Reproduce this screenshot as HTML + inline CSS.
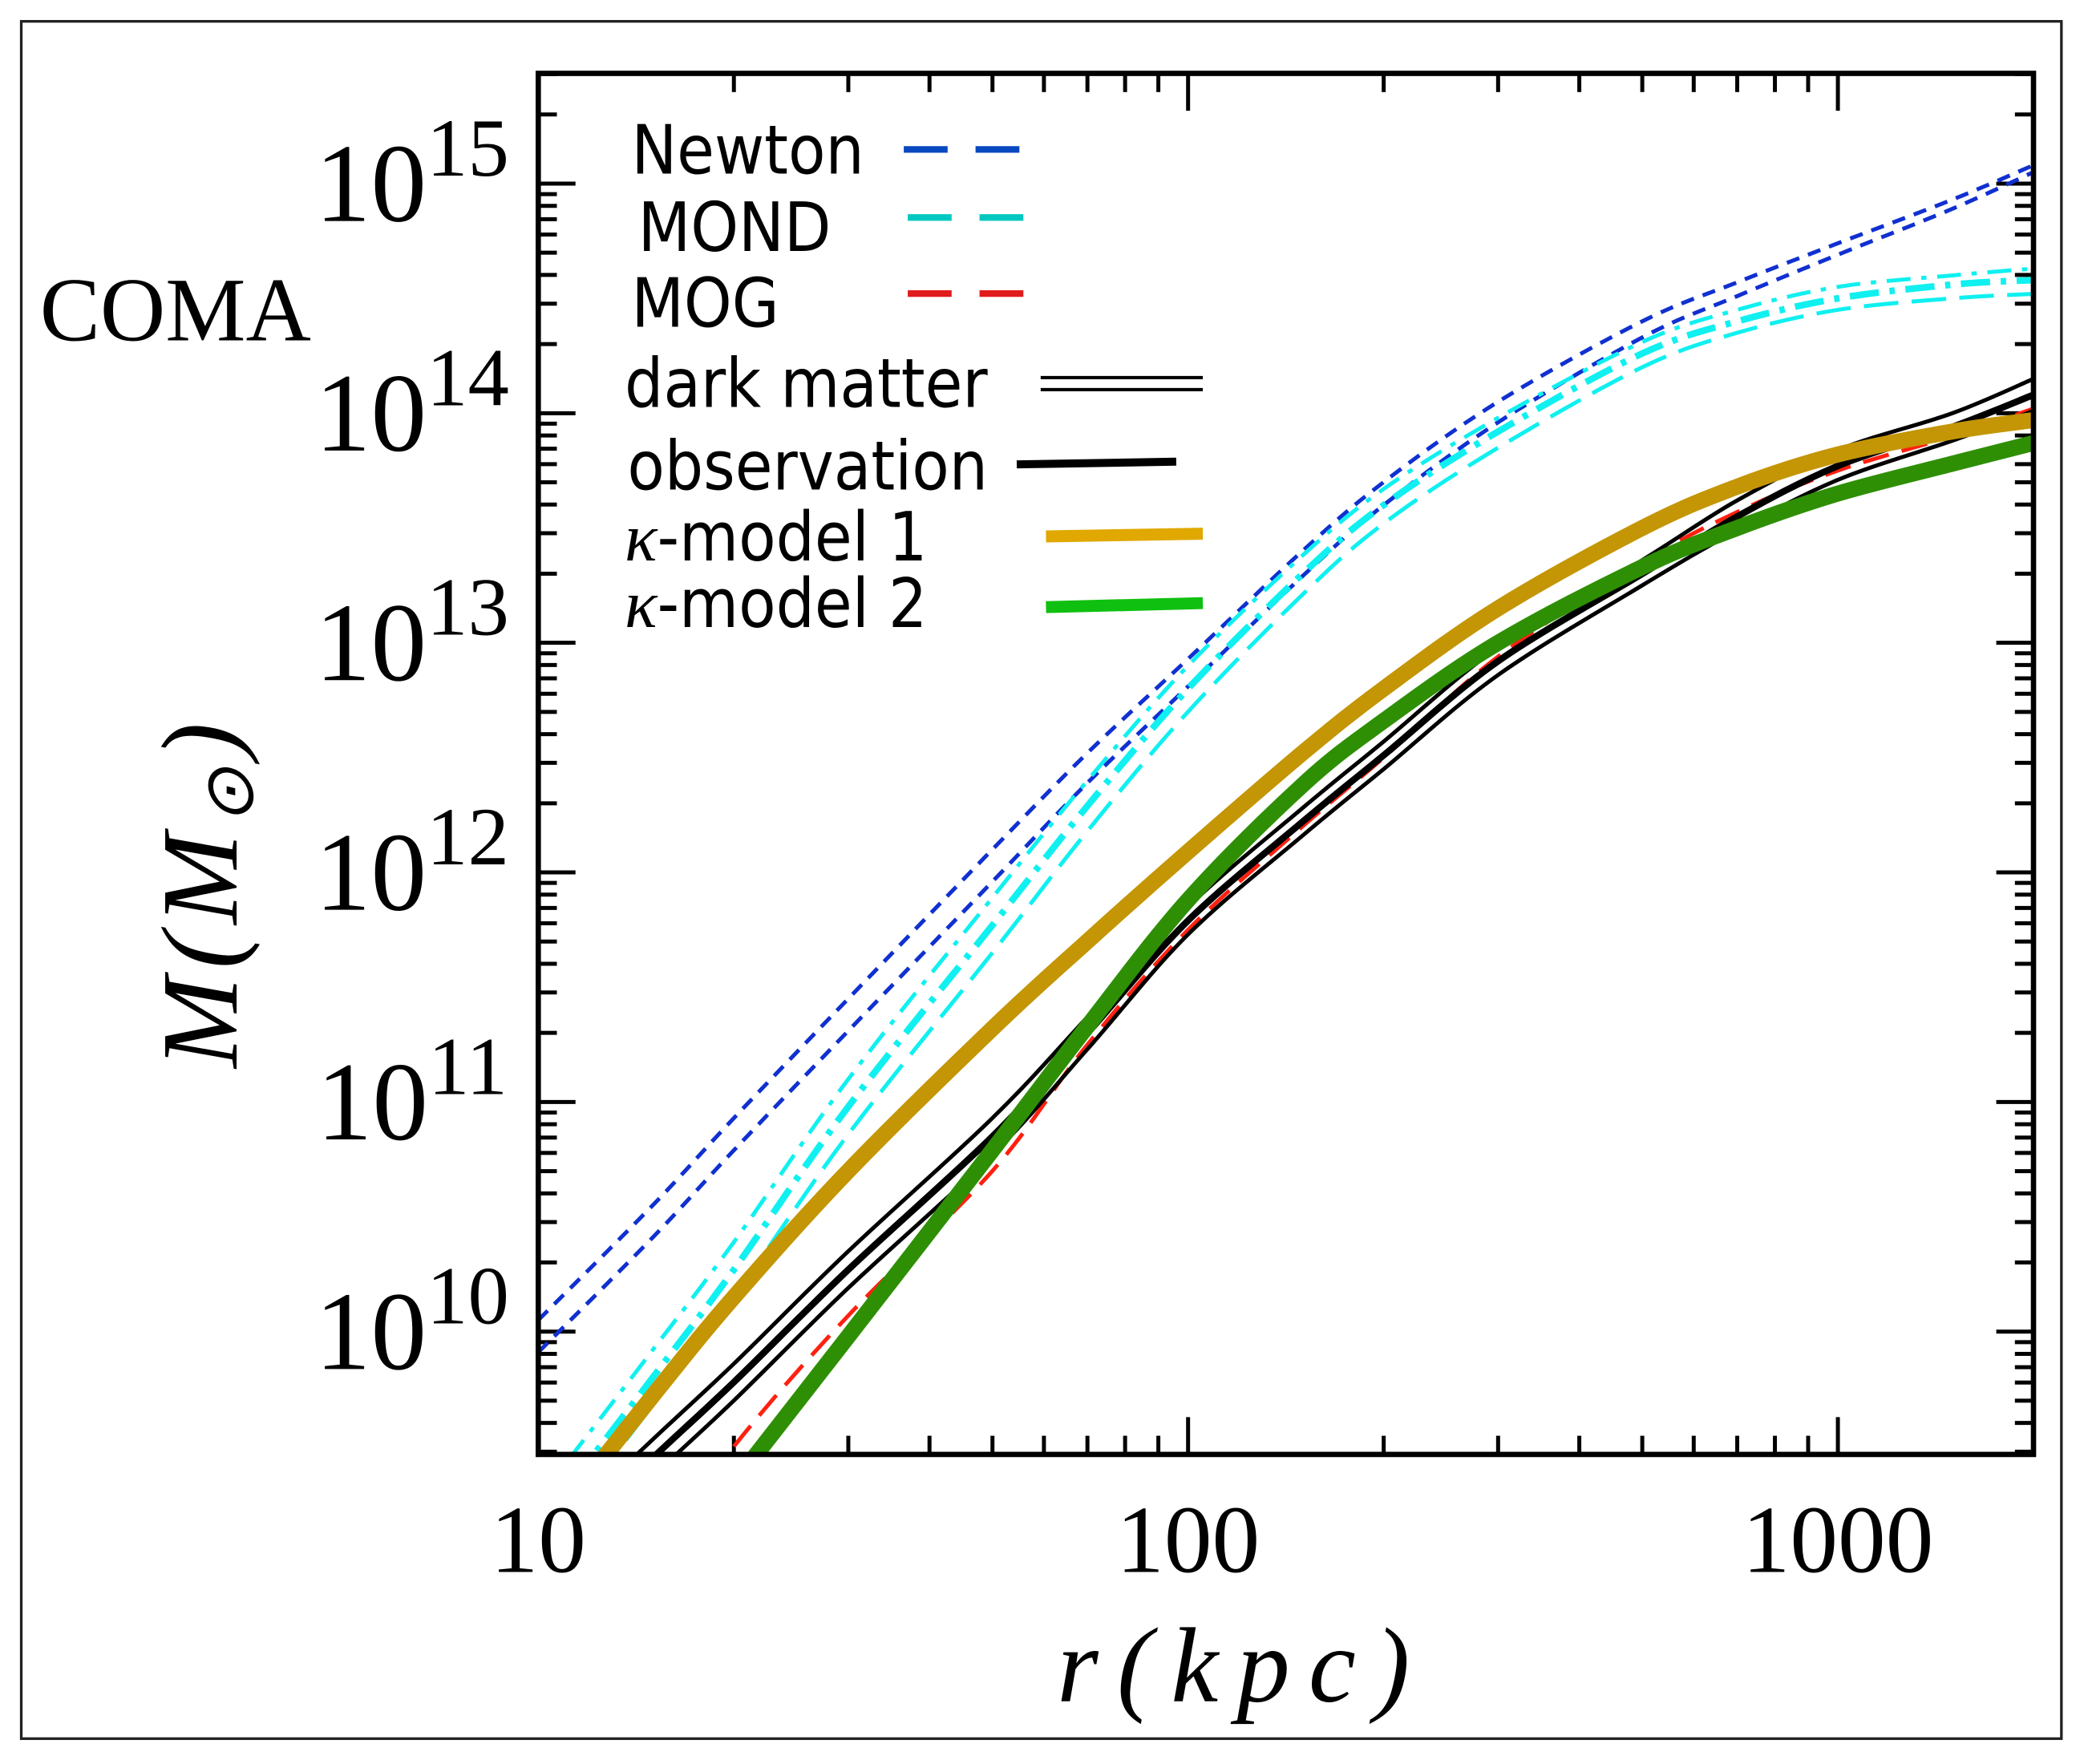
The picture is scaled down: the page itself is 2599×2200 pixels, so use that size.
<!DOCTYPE html>
<html><head><meta charset="utf-8"><style>
html,body{margin:0;padding:0;background:#fff}
svg{display:block}
text{font-family:"Liberation Serif",serif}
.lg{font-family:"DejaVu Sans Condensed","Liberation Sans Narrow","Liberation Sans",sans-serif;font-size:51px}
</style></head><body>
<svg id="chart" width="2599" height="2200" viewBox="0 0 1568 1322" preserveAspectRatio="none">
<rect x="16" y="16" width="1535" height="1287" fill="#fff" stroke="#222" stroke-width="2"/>
<text x="30" y="255" font-size="68">COMA</text>
<g id="ticks"></g>
<g id="series"></g>
<rect x="405" y="55" width="1125" height="1035" fill="none" stroke="#000" stroke-width="4"/>
<text x="935" y="1275" font-size="80" font-style="italic" letter-spacing="14" text-anchor="middle">r(kpc)</text>
<text transform="translate(178,668) rotate(-90)" font-size="82" font-style="italic" letter-spacing="6" text-anchor="middle">M(M<tspan font-size="52" dy="12">⊙</tspan><tspan dy="-12">)</tspan></text>
<g id="legend">
<text class="lg" x="475" y="130">Newton</text>
<line x1="680" y1="112" x2="780" y2="112" stroke="#0848c0" stroke-width="5" stroke-dasharray="33,21"/>
<text class="lg" x="480" y="188">MOND</text>
<line x1="683" y1="163" x2="783" y2="163" stroke="#00c8c0" stroke-width="5" stroke-dasharray="33,21"/>
<text class="lg" x="475" y="245">MOG</text>
<line x1="683" y1="220" x2="783" y2="220" stroke="#e01c1c" stroke-width="5" stroke-dasharray="33,21"/>
<text class="lg" x="470" y="305">dark matter</text>
<line x1="783" y1="283" x2="905" y2="283" stroke="#000" stroke-width="2.5"/>
<line x1="783" y1="292" x2="905" y2="292" stroke="#000" stroke-width="2.5"/>
<text class="lg" x="472" y="367">observation</text>
<line x1="765" y1="348" x2="885" y2="346" stroke="#000" stroke-width="6"/>
<text class="lg" x="470" y="420"><tspan font-family="Liberation Serif" font-style="italic">κ</tspan>-model 1</text>
<line x1="787" y1="402" x2="905" y2="400" stroke="#e0a800" stroke-width="9"/>
<text class="lg" x="470" y="470"><tspan font-family="Liberation Serif" font-style="italic">κ</tspan>-model 2</text>
<line x1="787" y1="455" x2="905" y2="452" stroke="#10c010" stroke-width="9"/>
</g>
</svg>
<script>
const NS="http://www.w3.org/2000/svg";
const X0=405,X1=1530,Y0=1090,Y1=55;
const xmin=1,xmax=Math.log10(2000),ymin=9.465,ymax=15.48;
function sx(r){return X0+(Math.log10(r)-xmin)/(xmax-xmin)*(X1-X0);}
function sy(lm){return Y0-(lm-ymin)/(ymax-ymin)*(Y0-Y1);}
const xTicks=[10,100,1000];
const xTickLabels=["10","100","1000"];
const yTicks=[10,11,12,13,14,15];
const radii=[10,15,20,30,50,70,100,150,200,300,500,700,1000,1500,2000];
const newtonA=[10.05,10.55,10.93,11.45,12.10,12.52,12.93,13.40,13.70,14.05,14.40,14.57,14.74,14.93,15.08];
const newtonB=[9.91,10.41,10.79,11.31,11.96,12.39,12.81,13.29,13.60,13.96,14.33,14.51,14.69,14.89,15.05];
const mondA=[9.27,9.92,10.39,11.10,11.89,12.40,12.90,13.38,13.67,13.98,14.31,14.45,14.55,14.60,14.63];
const mondB=[9.15,9.80,10.27,10.98,11.77,12.29,12.80,13.30,13.60,13.92,14.26,14.40,14.50,14.56,14.58];
const mondC=[9.03,9.68,10.15,10.86,11.65,12.18,12.70,13.21,13.52,13.85,14.20,14.35,14.45,14.50,14.52];
const dmA=[9.06,9.53,9.86,10.35,10.93,11.37,11.85,12.28,12.57,12.98,13.36,13.62,13.84,14.00,14.15];
const dmB=[8.90,9.37,9.70,10.19,10.77,11.23,11.73,12.16,12.45,12.86,13.25,13.49,13.71,13.88,14.01];
const obs=[8.98,9.45,9.78,10.27,10.85,11.30,11.79,12.22,12.51,12.92,13.30,13.55,13.77,13.94,14.08];
const mog=[8.40,9.00,9.50,10.07,10.70,11.25,11.75,12.20,12.50,12.94,13.35,13.57,13.75,13.90,14.02];
const km1=[9.09,9.72,10.15,10.70,11.32,11.70,12.09,12.52,12.80,13.15,13.50,13.68,13.82,13.92,13.97];
const km2=[8.30,8.90,9.34,9.98,10.79,11.33,11.88,12.38,12.66,13.00,13.33,13.50,13.65,13.78,13.87];
const tg=document.getElementById('ticks');
function ln(x1,y1,x2,y2,w,name){const l=document.createElementNS(NS,'line');
l.setAttribute('x1',x1);l.setAttribute('y1',y1);l.setAttribute('x2',x2);l.setAttribute('y2',y2);
l.setAttribute('stroke','#000');l.setAttribute('stroke-width',w);


tg.appendChild(l);}
for(let d=10;d<=1000;d*=10){for(let k=1;k<10;k++){const r=d*k;if(r>2000)break;const x=sx(r);const L=k==1?28:14;
ln(x,Y0,x,Y0-L,3,'x-tick');ln(x,Y1,x,Y1+L,3,'x-tick-top');}}
xTicks.forEach((r,i)=>{const t=document.createElementNS(NS,'text');t.setAttribute('x',sx(r));t.setAttribute('y',1178);
t.setAttribute('font-size','72');t.setAttribute('text-anchor','middle');t.textContent=xTickLabels[i];


tg.appendChild(t);});
for(let e=9;e<=15;e++){for(let k=1;k<10;k++){const v=e+Math.log10(k);if(v<ymin||v>ymax)continue;const y=sy(v);const L=k==1?28:14;
ln(X0,y,X0+L,y,3,'y-tick');ln(X1,y,X1-L,y,3,'y-tick-right');}}
yTicks.forEach(e=>{const t=document.createElementNS(NS,'text');t.setAttribute('x',310);t.setAttribute('y',sy(e)+28);
t.setAttribute('font-size','84');t.setAttribute('text-anchor','middle');
t.innerHTML='10<tspan font-size="62" dy="-34">'+e+'</tspan>';


tg.appendChild(t);});
const sg=document.getElementById('series');
function curve(vals,color,w,dash,name){
const P=radii.map((r,i)=>[sx(r),sy(vals[i])]);
let d='M'+P[0][0].toFixed(1)+','+P[0][1].toFixed(1);
for(let i=0;i<P.length-1;i++){const p0=P[Math.max(0,i-1)],p1=P[i],p2=P[i+1],p3=P[Math.min(P.length-1,i+2)];
const c1=[p1[0]+(p2[0]-p0[0])/6,p1[1]+(p2[1]-p0[1])/6],c2=[p2[0]-(p3[0]-p1[0])/6,p2[1]-(p3[1]-p1[1])/6];
d+='C'+c1[0].toFixed(1)+','+c1[1].toFixed(1)+' '+c2[0].toFixed(1)+','+c2[1].toFixed(1)+' '+p2[0].toFixed(1)+','+p2[1].toFixed(1);}
const p=document.createElementNS(NS,'path');p.setAttribute('d',d);p.setAttribute('fill','none');
p.setAttribute('stroke',color);p.setAttribute('stroke-width',w);if(dash)p.setAttribute('stroke-dasharray',dash);


sg.appendChild(p);}
const cp=document.createElementNS(NS,'clipPath');cp.id='clip';const cr=document.createElementNS(NS,'rect');
cr.setAttribute('x',X0);cr.setAttribute('y',Y1);cr.setAttribute('width',X1-X0);cr.setAttribute('height',Y0-Y1);
cp.appendChild(cr);document.getElementById('chart').appendChild(cp);sg.setAttribute('clip-path','url(#clip)');
curve(newtonA,'#1030d0',3,'10,7','newton-line-upper');
curve(newtonB,'#1030d0',3,'10,7','newton-line-lower');
curve(mondA,'#10f0f0',3,'18,8,4,8','mond-line-upper');
curve(mondB,'#10f0f0',5,'22,8,4,8','mond-line-mid');
curve(mondC,'#10f0f0',3,'26,10','mond-line-lower');
curve(mog,'#ff2010',3,'20,10','mog-line');
curve(dmA,'#000',3,null,'dark-matter-upper');
curve(dmB,'#000',3,null,'dark-matter-lower');
curve(obs,'#000',5,null,'observation-line');
curve(km1,'#c49504',12,null,'kappa-model-1-line');
curve(km2,'#2e8f04',12,null,'kappa-model-2-line');
</script>
</body></html>
